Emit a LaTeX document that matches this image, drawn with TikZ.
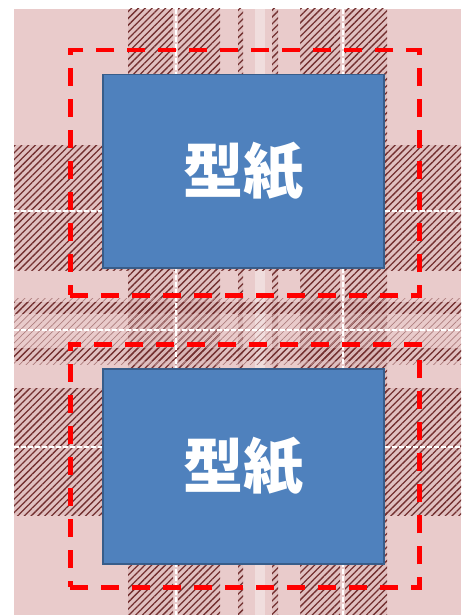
\documentclass[tikz,border=0pt]{standalone}
\usepackage{fontspec}
\newfontfamily\cjk{Noto Sans CJK JP}
\usetikzlibrary{patterns.meta}
\definecolor{bgpink}{RGB}{233,203,203}
\definecolor{hatchc}{RGB}{115,48,48}
\definecolor{boxblue}{RGB}{79,129,189}
\definecolor{boxedge}{RGB}{56,93,138}
\tikzset{
  hatch/.style={pattern={Lines[angle=45,distance=4.8pt,line width=1.3pt]}, pattern color=hatchc},
  lighthatch/.style={pattern={Lines[angle=45,distance=4.8pt,line width=0.7pt]}, pattern color=hatchc!50!bgpink},
  tone/.style={fill=hatchc, opacity=0.07},
  whiteline/.style={draw=white, line width=2pt, dash pattern=on 5pt off 2pt},
  paper/.style={draw=boxedge, line width=1.5pt, fill=boxblue, text=white, inner sep=0pt,
    font=\cjk\bfseries\fontsize{60}{64}\selectfont},
  cutline/.style={draw=red, line width=4.5pt, dash pattern=on 18pt off 13pt, inner sep=0pt},
}
\begin{document}
\begin{tikzpicture}[x=1pt,y=1pt]
\useasboundingbox (0,0) rectangle (461,-615);
\fill[bgpink] (14,-9) rectangle (461,-615);
% vertical stripes
\foreach \a/\b in {128/173,178/220,300/340,345/387,238/243,272/278} {
  \fill[tone] (\a,-9) rectangle (\b,-615);
  \fill[hatch] (\a,-9) rectangle (\b,-615);
}
\fill[white, opacity=0.35] (255,-9) rectangle (265,-615);
% horizontal stripes
\fill[lighthatch] (14,-298) rectangle (461,-364);
\foreach \a/\b in {145/270,388/515,302/313,348/360} {
  \fill[tone] (14,-\a) rectangle (461,-\b);
  \fill[hatch] (14,-\a) rectangle (461,-\b);
}
% white threads
\draw[whiteline] (175.5,-9) -- (175.5,-615);
\draw[whiteline] (342.5,-9) -- (342.5,-615);
\draw[whiteline] (14,-211) -- (461,-211);
\draw[whiteline] (14,-447) -- (461,-447);
\draw[whiteline] (14,-330) -- (461,-330);
% cut lines
\node[cutline, minimum width=349pt, minimum height=245pt, anchor=north west] (c1) at (68,-48) {};
\node[cutline, minimum width=349pt, minimum height=243pt, anchor=north west] (c2) at (68,-342) {};
% pattern papers
\node[paper, minimum width=281pt, minimum height=193pt, anchor=north west] (p1) at (102,-74) {型紙};
\node[paper, minimum width=281pt, minimum height=195pt, anchor=north west] (p2) at (102,-368) {型紙};
\end{tikzpicture}
\end{document}
